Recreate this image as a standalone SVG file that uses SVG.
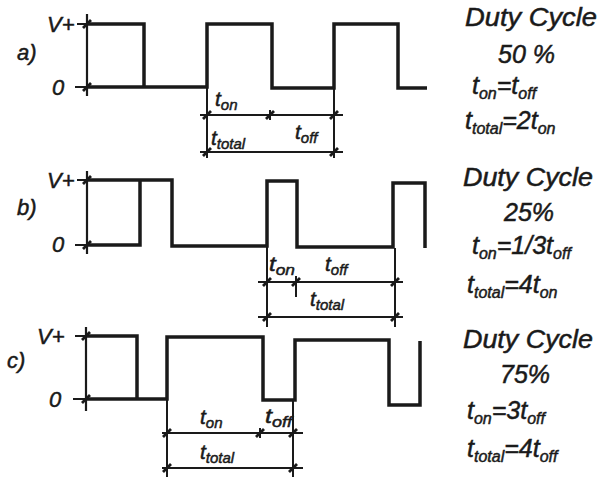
<svg xmlns="http://www.w3.org/2000/svg" width="602" height="478" viewBox="0 0 602 478">
<style>
.wave{fill:none;stroke:#1a1a1a;stroke-width:3.5;stroke-linejoin:miter}
.axis{fill:none;stroke:#1a1a1a;stroke-width:2.2}
.dim{fill:none;stroke:#1a1a1a;stroke-width:2}
.tick{fill:none;stroke:#1a1a1a;stroke-width:2.8}
text{font-family:"Liberation Sans",Arial,sans-serif;font-style:italic;fill:#1a1a1a;stroke:#1a1a1a;stroke-width:0.5}
.lab{font-size:22px}
.t{font-size:21px}
.s{font-size:15px}
.r{font-size:25px}
.rs{font-size:16px}
</style>
<rect width="602" height="478" fill="#fff" stroke="none"/>

<g id="panel-a">
  <text class="lab" x="17" y="60">a)</text>
  <text class="lab" x="47" y="32">V+</text>
  <text class="lab" x="52" y="95">0</text>
  <path class="axis" d="M87,14 V96 M77,24 H87 M75,87 H87"/>
  <path class="tick" d="M83,28 L91,20 M83,91 L91,83"/>
  <path class="wave" d="M87,24 H144 V87 H207 V24 H272 V88 H334 V24 H398 V88 H427 M87,87 H144"/>
</g>
<g id="panel-a-dims">
  <path class="dim" d="M207,88 V158 M334,88 V158 M270,110 V120 M200,115 H343 M200,152 H343"/>
  <path class="tick" d="M203,119 L211,111 M266,119 L274,111 M330,119 L338,111 M203,156 L211,148 M330,156 L338,148"/>
  <text class="t" x="215" y="106">t<tspan class="s" dy="4">on</tspan></text>
  <text class="t" x="211" y="145">t<tspan class="s" dy="4">total</tspan></text>
  <text class="t" x="295" y="139">t<tspan class="s" dy="4">off</tspan></text>
</g>

<g id="panel-b">
  <text class="lab" x="17" y="215">b)</text>
  <text class="lab" x="47" y="188">V+</text>
  <text class="lab" x="52" y="252">0</text>
  <path class="axis" d="M87,171 V254 M77,180 H87 M75,245 H87"/>
  <path class="tick" d="M83,184 L91,176 M83,249 L91,241"/>
  <path class="wave" d="M87,245 H140 V180 M87,180 H172 V246 H267 V181 H297 V247 H393 V183 H425 V248"/>
</g>
<g id="panel-b-dims">
  <path class="dim" d="M267,247 V327 M296,276 V297 M395,248 V327 M258,282 H403 M258,317 H403"/>
  <path class="tick" d="M263,286 L271,278 M292,286 L300,278 M391,286 L399,278 M263,321 L271,313 M391,321 L399,313"/>
  <text class="t" x="269" y="271" textLength="26" lengthAdjust="spacingAndGlyphs">t<tspan class="s" dy="4">on</tspan></text>
  <text class="t" x="325" y="271">t<tspan class="s" dy="4">off</tspan></text>
  <text class="t" x="310" y="306">t<tspan class="s" dy="4">total</tspan></text>
</g>

<g id="panel-c">
  <text class="lab" x="7" y="368">c)</text>
  <text class="lab" x="37" y="344">V+</text>
  <text class="lab" x="49" y="407">0</text>
  <path class="axis" d="M86,327 V411 M75,336 H86 M73,399 H86"/>
  <path class="tick" d="M82,340 L90,332 M82,403 L90,395"/>
  <path class="wave" d="M86,336 H137 V399 M86,399 H167 V337 H263 V400 H295 V340 H389 V405 H420 V341"/>
</g>
<g id="panel-c-dims">
  <path class="dim" d="M167,399 V477 M293,400 V477 M260,428 V438 M162,433 H303 M162,468 H303"/>
  <path class="tick" d="M163,437 L171,429 M256,437 L264,429 M289,437 L297,429 M163,472 L171,464 M289,472 L297,464"/>
  <text class="t" x="200" y="424">t<tspan class="s" dy="4">on</tspan></text>
  <text class="t" x="265" y="423" textLength="27" lengthAdjust="spacingAndGlyphs">t<tspan class="s" dy="4">off</tspan></text>
  <text class="t" x="200" y="459">t<tspan class="s" dy="4">total</tspan></text>
</g>

<g id="caption-a">
  <text class="r" x="465" y="26" textLength="132" lengthAdjust="spacingAndGlyphs">Duty Cycle</text>
  <text class="r" x="498" y="63">50 %</text>
  <text class="r" x="472" y="94">t<tspan class="rs" dy="5">on</tspan><tspan dy="-5">=t</tspan><tspan class="rs" dy="5">off</tspan></text>
  <text class="r" x="465" y="129">t<tspan class="rs" dy="5">total</tspan><tspan dy="-5">=2t</tspan><tspan class="rs" dy="5">on</tspan></text>
</g>
<g id="caption-b">
  <text class="r" x="463" y="186" textLength="130" lengthAdjust="spacingAndGlyphs">Duty Cycle</text>
  <text class="r" x="504" y="221">25%</text>
  <text class="r" x="472" y="254">t<tspan class="rs" dy="5">on</tspan><tspan dy="-5">=1/3t</tspan><tspan class="rs" dy="5">off</tspan></text>
  <text class="r" x="467" y="293">t<tspan class="rs" dy="5">total</tspan><tspan dy="-5">=4t</tspan><tspan class="rs" dy="5">on</tspan></text>
</g>
<g id="caption-c">
  <text class="r" x="463" y="348" textLength="130" lengthAdjust="spacingAndGlyphs">Duty Cycle</text>
  <text class="r" x="500" y="383">75%</text>
  <text class="r" x="467" y="419">t<tspan class="rs" dy="5">on</tspan><tspan dy="-5">=3t</tspan><tspan class="rs" dy="5">off</tspan></text>
  <text class="r" x="467" y="457">t<tspan class="rs" dy="5">total</tspan><tspan dy="-5">=4t</tspan><tspan class="rs" dy="5">off</tspan></text>
</g>
</svg>
